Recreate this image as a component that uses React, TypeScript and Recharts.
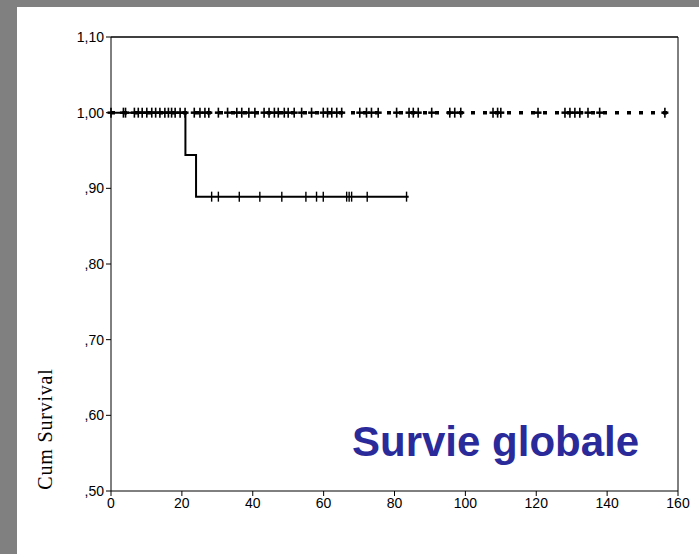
import {
  ComposedChart,
  Line,
  Scatter,
  XAxis,
  YAxis,
  ReferenceLine,
} from "recharts";

// Kaplan-Meier steps, group 1 (no events) and group 2
const group1Steps = [
  { x: 0, y: 1.0 },
  { x: 157, y: 1.0 },
];
const group2Steps = [
  { x: 0, y: 1.0 },
  { x: 21, y: 0.944 },
  { x: 24, y: 0.889 },
  { x: 84, y: 0.889 },
];

// censored times
const group1Censored = [
  0, 3.5, 4.1, 6.6, 7.7, 8.8, 10.1, 11.5, 12.6, 13.8, 15.2, 16.2, 17.1, 18.1,
  19.5, 20.9, 23.5, 25.1, 26.5, 27.6, 30.3, 32.9, 35.5, 36.9, 38.9, 40.6, 43.2,
  44.6, 46.1, 47.2, 48.9, 50.0, 51.7, 53.8, 56.6, 59.9, 61.1, 62.3, 63.7, 65.1,
  70.2, 72.1, 73.5, 75.4, 80.6, 84.1, 85.3, 86.7, 90.5, 95.6, 97.0, 98.7, 107.8,
  109.1, 110.0, 120.5, 128.1, 129.5, 130.9, 132.3, 134.6, 137.9, 156.3,
];
const group2Censored = [
  28.4, 30.3, 36.2, 42, 48.2, 55, 58, 59.9, 66.5, 67.2, 67.9, 72.3, 83.4,
];

const xTicks = [0, 20, 40, 60, 80, 100, 120, 140, 160];
const yTicks = [0.5, 0.6, 0.7, 0.8, 0.9, 1.0, 1.1];

const fmtY = (v: number) =>
  v >= 1 ? v.toFixed(2).replace(".", ",") : "," + v.toFixed(2).slice(2);

const CensorPlus = (props: any) => {
  const { cx, cy } = props;
  return (
    <g>
      <line x1={cx} x2={cx} y1={cy - 5} y2={cy + 5} stroke="#000" strokeWidth={1.6} />
      <line x1={cx - 3.5} x2={cx + 3.5} y1={cy} y2={cy} stroke="#000" strokeWidth={2.5} />
    </g>
  );
};

const CensorTick = (props: any) => {
  const { cx, cy } = props;
  return (
    <line x1={cx} x2={cx} y1={cy - 5} y2={cy + 5} stroke="#000" strokeWidth={1.4} />
  );
};

const tickFont = {
  fontFamily: "'Liberation Sans Narrow', 'Liberation Sans', Arial, sans-serif",
  fontSize: 14,
  fill: "#000",
};

export default function App() {
  const c1 = group1Censored.map((x) => ({ x, y: 1.0 }));
  const c2 = group2Censored.map((x) => ({ x, y: 0.889 }));

  return (
    <div
      style={{
        position: "fixed",
        left: 0,
        top: 0,
        width: 699,
        height: 554,
        background: "#808080",
        overflow: "hidden",
      }}
    >
      <div
        style={{
          position: "absolute",
          left: 17,
          top: 7,
          width: 690,
          height: 560,
          background: "#fff",
        }}
      />
      <div style={{ position: "absolute", left: 0, top: 0 }}>
        <ComposedChart
          width={699}
          height={554}
          margin={{ top: 37, right: 21, bottom: 33, left: 61 }}
        >
          <XAxis
            dataKey="x"
            type="number"
            domain={[0, 160]}
            ticks={xTicks}
            tickSize={5}
            height={30}
            stroke="#000"
            tick={tickFont}
            allowDuplicatedCategory={false}
          />
          <YAxis
            type="number"
            domain={[0.5, 1.1]}
            ticks={yTicks}
            tickFormatter={fmtY}
            tickSize={5}
            width={50}
            stroke="#000"
            tick={tickFont}
          />
          <ReferenceLine y={1.1} stroke="#000" strokeWidth={1.3} />
          <ReferenceLine x={160} stroke="#000" strokeWidth={1} />
          <Line
            data={group1Steps}
            dataKey="y"
            type="stepAfter"
            stroke="#000"
            strokeWidth={3.5}
            strokeDasharray="4 8"
            dot={false}
            isAnimationActive={false}
          />
          <Line
            data={group2Steps}
            dataKey="y"
            type="stepAfter"
            stroke="#000"
            strokeWidth={2}
            dot={false}
            isAnimationActive={false}
          />
          <Scatter data={c1} dataKey="y" shape={CensorPlus} isAnimationActive={false} />
          <Scatter data={c2} dataKey="y" shape={CensorTick} isAnimationActive={false} />
        </ComposedChart>
      </div>
      <div
        style={{
          position: "absolute",
          left: 45,
          top: 429,
          transform: "translate(-50%, -50%) rotate(-90deg)",
          fontFamily: "'Liberation Serif', 'Times New Roman', serif",
          fontSize: 20,
          letterSpacing: 0.8,
          color: "#000",
          whiteSpace: "nowrap",
        }}
      >
        Cum Survival
      </div>
      <div
        style={{
          position: "absolute",
          left: 352,
          top: 418,
          fontFamily: "'Liberation Sans', Arial, sans-serif",
          fontWeight: "bold",
          fontSize: 42,
          color: "#2a2a9a",
          whiteSpace: "nowrap",
          lineHeight: "48px",
        }}
      >
        Survie globale
      </div>
    </div>
  );
}
